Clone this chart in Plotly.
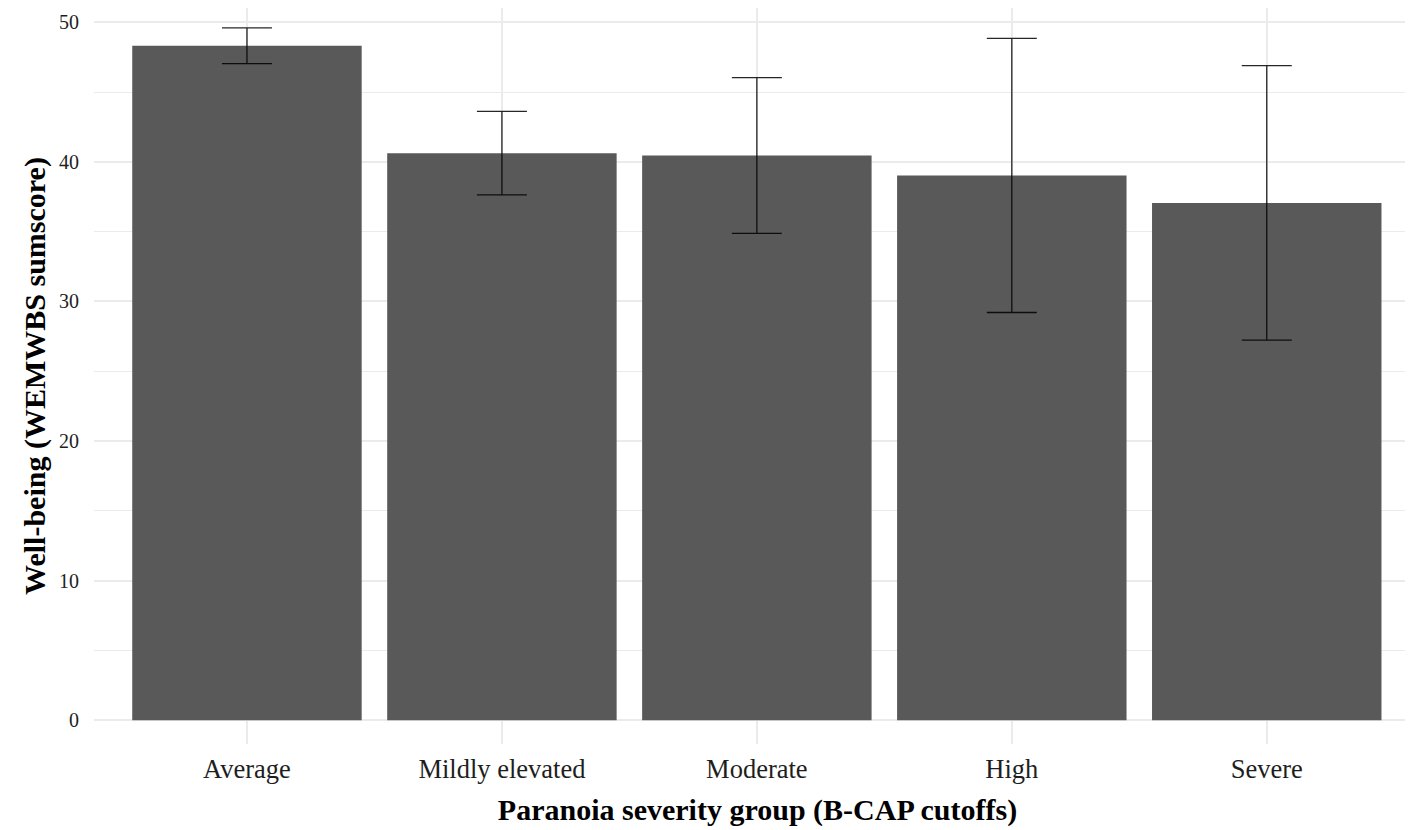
import plotly.graph_objects as go

categories = ["Average", "Mildly elevated", "Moderate", "High", "Severe"]
means = [48.32, 40.62, 40.45, 39.03, 37.06]
errors = [1.28, 2.99, 5.58, 9.82, 9.83]
y_ticks = [0, 10, 20, 30, 40, 50]

fig = go.Figure()
fig.add_trace(go.Bar(
    x=categories,
    y=means,
    width=0.9,
    marker=dict(color="#595959", line=dict(width=0)),
    error_y=dict(type="data", array=errors, visible=True,
                 color="rgba(0,0,0,0.85)", thickness=1.3, width=25),
    hoverinfo="skip",
))

fig.update_layout(
    width=1413, height=830,
    margin=dict(l=86, r=0, t=0, b=94, autoexpand=False),
    plot_bgcolor="white", paper_bgcolor="white",
    showlegend=False,
    font=dict(family="Liberation Serif, Times New Roman, serif", color="#1e1e1e"),
    xaxis=dict(
        type="category",
        range=[-0.6, 4.605],
        showgrid=True, gridcolor="#EBEBEB", gridwidth=1.5,
        zeroline=False, showline=False, ticks="",
        tickfont=dict(size=26.5, color="#1e1e1e"),
        ticklabelstandoff=6,
        title=dict(text="<b>Paranoia severity group (B-CAP cutoffs)</b>",
                   font=dict(size=30, color="#000000"), standoff=16),
        automargin=False,
    ),
    yaxis=dict(
        range=[-1.70, 51.02],
        tickvals=y_ticks,
        showgrid=True, gridcolor="#EBEBEB", gridwidth=1.5,
        minor=dict(dtick=5, showgrid=True, gridcolor="#EBEBEB", gridwidth=0.9),
        zeroline=False, showline=False, ticks="",
        tickfont=dict(size=20, color="#1e1e1e"),
        ticklabelstandoff=14,
        title=dict(text="<b>Well-being (WEMWBS sumscore)</b>",
                   font=dict(size=30, color="#000000"), standoff=4),
        automargin=False,
    ),
)

fig.write_html("out.html")
